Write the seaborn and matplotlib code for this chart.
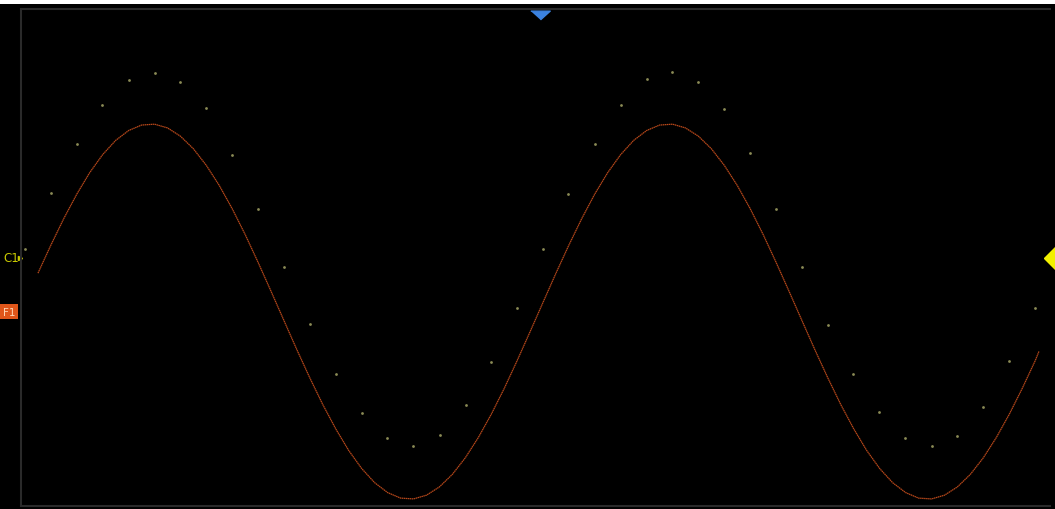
import numpy as np
import pandas as pd
import matplotlib.pyplot as plt
import seaborn as sns
from matplotlib import transforms
from matplotlib.patches import Rectangle

# Pantalla: 10 divisiones horizontales, 8 verticales
# C1: muestras adquiridas (puntos)
c1_t = [0.04, 0.29, 0.54, 0.79, 1.05, 1.30, 1.55, 1.80, 2.05, 2.30,
        2.56, 2.81, 3.06, 3.31, 3.56, 3.81, 4.07, 4.32, 4.57, 4.82,
        5.07, 5.32, 5.58, 5.83, 6.08, 6.33, 6.58, 6.83, 7.08, 7.34,
        7.59, 7.84, 8.09, 8.34, 8.59, 8.85, 9.10, 9.35, 9.60, 9.85]
c1_v = [0.14, 1.04, 1.83, 2.46, 2.86, 2.97, 2.83, 2.41, 1.65, 0.78,
        -0.15, -1.07, -1.88, -2.50, -2.91, -3.04, -2.86, -2.38, -1.68, -0.81,
        0.14, 1.02, 1.83, 2.46, 2.87, 2.99, 2.83, 2.39, 1.68, 0.78,
        -0.15, -1.09, -1.88, -2.49, -2.91, -3.04, -2.87, -2.41, -1.67, -0.81]

# F1: traza matemática (interpolada por el osciloscopio)
f1_t = [0.165, 0.291, 0.417, 0.543, 0.668, 0.794, 0.920, 1.046, 1.172, 1.298,
        1.424, 1.549, 1.675, 1.801, 1.927, 2.053, 2.179, 2.304, 2.430, 2.556,
        2.682, 2.808, 2.934, 3.060, 3.185, 3.311, 3.437, 3.563, 3.689, 3.815,
        3.941, 4.066, 4.192, 4.318, 4.444, 4.570, 4.696, 4.821, 4.947, 5.073,
        5.199, 5.325, 5.451, 5.576, 5.702, 5.828, 5.954, 6.080, 6.206, 6.332,
        6.457, 6.583, 6.709, 6.835, 6.961, 7.087, 7.213, 7.338, 7.464, 7.590,
        7.716, 7.842, 7.968, 8.094, 8.219, 8.345, 8.471, 8.597, 8.723, 8.849,
        8.975, 9.100, 9.226, 9.352, 9.478, 9.604, 9.730, 9.856, 9.893]
f1_v = [-0.252, 0.202, 0.631, 1.022, 1.367, 1.657, 1.885, 2.044, 2.132, 2.146,
        2.086, 1.953, 1.751, 1.483, 1.159, 0.784, 0.368, -0.078, -0.544, -1.017,
        -1.488, -1.942, -2.371, -2.762, -3.107, -3.397, -3.625, -3.784, -3.873, -3.886,
        -3.826, -3.693, -3.491, -3.224, -2.899, -2.524, -2.108, -1.662, -1.196, -0.723,
        -0.252, 0.202, 0.631, 1.022, 1.367, 1.657, 1.885, 2.044, 2.132, 2.146,
        2.086, 1.953, 1.751, 1.483, 1.159, 0.784, 0.368, -0.078, -0.544, -1.017,
        -1.488, -1.942, -2.371, -2.762, -3.107, -3.397, -3.625, -3.784, -3.873, -3.886,
        -3.826, -3.693, -3.491, -3.224, -2.899, -2.524, -2.108, -1.662, -1.51]

c1_offset = 0.0
f1_offset = -0.87
trigger_pos = 5.04

df_c1 = pd.DataFrame({'t': c1_t, 'v': c1_v})
df_f1 = pd.DataFrame({'t': f1_t, 'v': f1_v})

sns.set_theme(style="dark", rc={"axes.facecolor": "black", "figure.facecolor": "black"})

fig = plt.figure(figsize=(10.55, 5.10), dpi=100)
ax = fig.add_axes([21 / 1055, 3 / 510, 1029 / 1055, 497 / 510])

# franja blanca superior
fig.patches.append(Rectangle((0, 505 / 510), 1, 5 / 510, transform=fig.transFigure,
                             facecolor='white', edgecolor='none'))

# trazas
sns.lineplot(data=df_f1, x='t', y='v', ax=ax, color='#b8481a', linewidth=0.9,
             sort=False, linestyle=(0, (1.2, 0.4)))
sns.scatterplot(data=df_c1, x='t', y='v', ax=ax, color='#8a8a55', s=4, linewidth=0)

ax.set_xlim(0, 10)
ax.set_ylim(-4, 4)
ax.set_xticks([])
ax.set_yticks([])
ax.set_xlabel('')
ax.set_ylabel('')
ax.grid(False)
for lado in ['left', 'top', 'bottom']:
    ax.spines[lado].set_visible(True)
    ax.spines[lado].set_color('#2a2a2a')
    ax.spines[lado].set_linewidth(1.5)
ax.spines['right'].set_visible(False)

# marcadores de canal a la izquierda
trans_fig_data = transforms.blended_transform_factory(fig.transFigure, ax.transData)
fig.text(3 / 1055, c1_offset, 'C1', transform=trans_fig_data, color='#c8c800',
         fontsize=8.5, va='center', ha='left')
ax.plot([19.5 / 1055], [c1_offset], marker='>', markersize=3, color='#c8c800',
        transform=trans_fig_data, clip_on=False)
fig.text(3 / 1055, f1_offset, 'F1', transform=trans_fig_data, color='#ffd6b5',
         fontsize=7.5, va='center', ha='left',
         bbox=dict(boxstyle='square,pad=0.25', facecolor='#e0561a', edgecolor='none'))

# marcador de disparo (arriba) y nivel (derecha)
trans_data_ax = transforms.blended_transform_factory(ax.transData, ax.transAxes)
ax.plot([trigger_pos], [0.987], marker=[(-1, 0.45), (1, 0.45), (0, -0.45)],
        markersize=14, color='#3b82e0', transform=trans_data_ax, clip_on=False)
trans_ax_data = transforms.blended_transform_factory(ax.transAxes, ax.transData)
ax.plot([1.0049], [c1_offset], marker='D', markersize=11, color='#f2f000',
        transform=trans_ax_data, clip_on=False)

fig.savefig('out.png', dpi=100)
